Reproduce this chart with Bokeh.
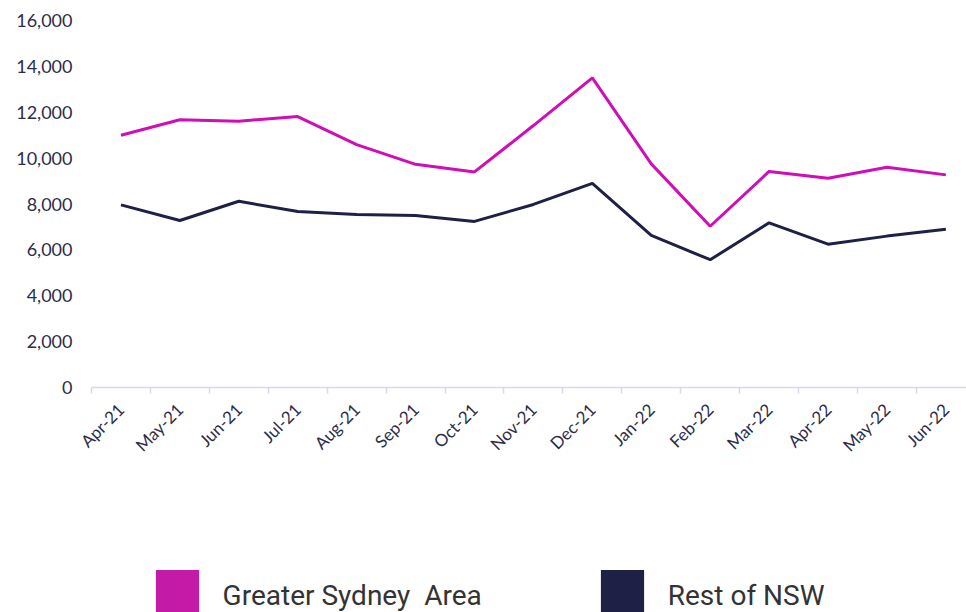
import math
from bokeh.plotting import figure
from bokeh.layouts import column
from bokeh.models import (Range1d, FixedTicker, NumeralTickFormatter, Legend, LegendItem, ColumnDataSource)
from bokeh.embed import file_html
from bokeh.resources import INLINE

months = ["Apr-21", "May-21", "Jun-21", "Jul-21", "Aug-21", "Sep-21", "Oct-21", "Nov-21",
          "Dec-21", "Jan-22", "Feb-22", "Mar-22", "Apr-22", "May-22", "Jun-22"]
greater_sydney = [11000, 11670, 11610, 11810, 10590, 9730, 9400, 11420,
                  13500, 9750, 7030, 9420, 9120, 9600, 9270]
rest_of_nsw = [7960, 7280, 8120, 7670, 7540, 7500, 7240, 7980,
               8900, 6630, 5570, 7180, 6250, 6600, 6900]
y_ticks = [0, 2000, 4000, 6000, 8000, 10000, 12000, 14000, 16000]
series_names = ["Greater Sydney  Area", "Rest of NSW"]

MAGENTA_LINE = "#D10DB5"
MAGENTA_BOX = "#C31BA7"
NAVY = "#1E2045"
TEXT = "#2d2d4b"
AXIS = "#d6d8ee"

W = 966
x_idx = list(range(len(months)))
src = ColumnDataSource(dict(x=x_idx, gs=greater_sydney, rn=rest_of_nsw))

p = figure(width=W, height=470, output_backend="svg", toolbar_location=None,
           x_range=Range1d(-0.5, 14.35), y_range=Range1d(0, 16000),
           min_border_left=91, min_border_right=0, min_border_top=20, min_border_bottom=83)
p.outline_line_color = None
p.grid.visible = False

p.line("x", "gs", source=src, line_color=MAGENTA_LINE, line_width=3)
p.line("x", "rn", source=src, line_color=NAVY, line_width=3)

# y axis
ya = p.yaxis[0]
ya.ticker = FixedTicker(ticks=y_ticks, minor_ticks=[])
ya.formatter = NumeralTickFormatter(format="0,0")
ya.axis_line_color = None
ya.major_tick_line_color = None
ya.minor_tick_line_color = None
ya.major_tick_out = 0
ya.major_tick_in = 0
ya.major_label_standoff = 19
ya.major_label_text_font = "Lato"
ya.major_label_text_font_size = "18px"
ya.major_label_text_color = TEXT

# x axis
xa = p.xaxis[0]
xa.ticker = FixedTicker(ticks=x_idx, minor_ticks=[i - 0.5 for i in x_idx] + [len(months) - 0.5])
xa.major_label_overrides = {i: m for i, m in zip(x_idx, months)}
xa.major_label_orientation = math.pi / 4
xa.axis_line_color = AXIS
xa.axis_line_width = 1.5
xa.major_tick_line_color = None
xa.major_tick_out = 0
xa.major_tick_in = 0
xa.minor_tick_line_color = AXIS
xa.minor_tick_line_width = 1.5
xa.minor_tick_out = 6
xa.minor_tick_in = 0
xa.major_label_standoff = 13
xa.major_label_text_font = "Lato"
xa.major_label_text_font_size = "17px"
xa.major_label_text_color = TEXT

# legend strip (helper swatch glyphs hold NaN so only their legend swatches show)
nan = float("nan")
lg = figure(width=W, height=142, output_backend="svg", toolbar_location=None,
            x_range=Range1d(0, 1), y_range=Range1d(0, 1),
            x_axis_type=None, y_axis_type=None,
            min_border_left=0, min_border_right=0, min_border_top=0, min_border_bottom=0)
lg.outline_line_color = None
lg.grid.visible = False
q1 = lg.quad(left=[nan], right=[nan], top=[nan], bottom=[nan], fill_color=MAGENTA_BOX, line_color=None)
q2 = lg.quad(left=[nan], right=[nan], top=[nan], bottom=[nan], fill_color=NAVY, line_color=None)
legend = Legend(items=[LegendItem(label=series_names[0], renderers=[q1]),
                       LegendItem(label=series_names[1], renderers=[q2])],
                orientation="horizontal", location=(58.6, -15.5),
                glyph_width=54, glyph_height=65, label_standoff=19, spacing=113,
                padding=0, margin=0, border_line_color=None, background_fill_alpha=0,
                label_text_font="Roboto", label_text_font_size="28px",
                label_text_color="#333333")
lg.add_layout(legend, "center")

layout = column(p, lg, spacing=0)
open("out.html", "w").write(file_html(layout, INLINE))
